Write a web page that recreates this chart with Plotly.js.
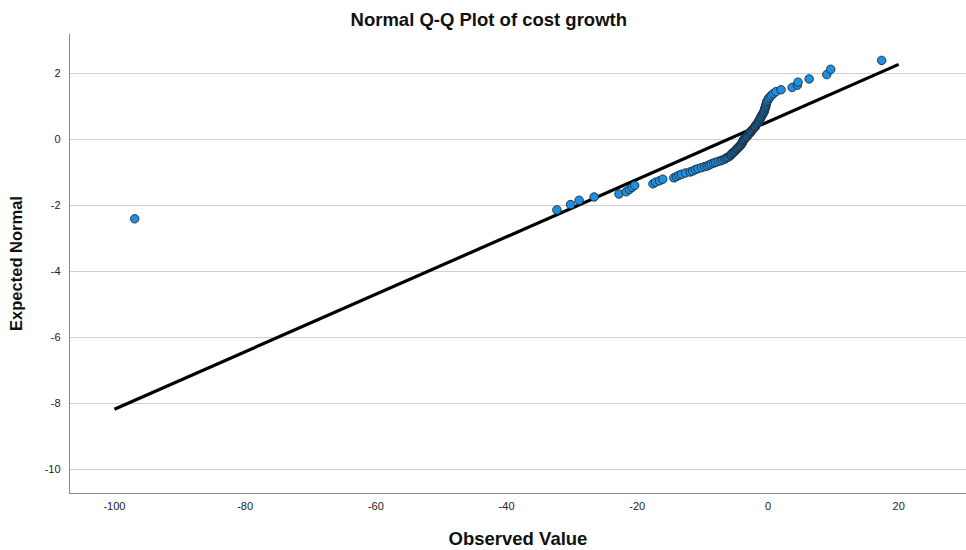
<!DOCTYPE html>
<html>
<head>
<meta charset="utf-8">
<script src="https://cdn.plot.ly/plotly-3.0.1.min.js"></script>
<style>html,body{margin:0;padding:0;background:#fff;}#chart{width:966px;height:550px;}</style>
</head>
<body>
<div id="chart"></div>
<script>
const observed = [
  -96.9, -32.3, -30.2, -28.9, -26.6, -22.8, -21.7, -21.2, -20.8, -20.4,
  -17.6, -17.2, -16.6, -16.1, -14.4, -14.0, -13.6, -13.2, -12.6, -11.9,
  -11.5, -11.1, -10.7, -10.2, -9.7, -9.3, -9.0, -8.7, -8.3, -8.0,
  -7.6, -7.2, -6.9, -6.6, -6.4, -6.2, -6.0, -5.8, -5.7, -5.6,
  -5.5, -5.4, -5.2, -5.1, -5.0, -4.9, -4.8, -4.7, -4.6, -4.5,
  -4.4, -4.3, -4.2, -4.1, -4.0, -3.95, -3.9, -3.85, -3.8, -3.75,
  -3.7, -3.6, -3.5, -3.4, -3.3, -3.2, -3.1, -3.0, -2.9, -2.8,
  -2.7, -2.65, -2.6, -2.55, -2.4, -2.3, -2.2, -2.1, -2.0, -1.95,
  -1.9, -1.8, -1.7, -1.6, -1.5, -1.45, -1.4, -1.3, -1.25, -1.2,
  -1.1, -1.05, -1.0, -0.9, -0.8, -0.75, -0.65, -0.6, -0.55, -0.5,
  -0.45, -0.4, -0.35, -0.3, -0.25, -0.2, -0.15, 0.0, 0.1, 0.3,
  0.5, 0.8, 1.2, 2.0, 3.7, 4.5, 4.6, 6.3, 9.0, 9.6,
  17.4
];
// Expected normal values
const expectedNormal = [
  -2.40, -2.13, -1.97, -1.84, -1.74, -1.65, -1.58, -1.51, -1.45, -1.39,
  -1.34, -1.29, -1.25, -1.20, -1.16, -1.12, -1.08, -1.05, -1.01, -0.98,
  -0.95, -0.91, -0.88, -0.85, -0.82, -0.80, -0.77, -0.74, -0.71, -0.69,
  -0.66, -0.64, -0.61, -0.59, -0.56, -0.54, -0.52, -0.49, -0.47, -0.45,
  -0.42, -0.40, -0.38, -0.36, -0.34, -0.31, -0.29, -0.27, -0.25, -0.23,
  -0.21, -0.19, -0.17, -0.15, -0.12, -0.10, -0.08, -0.06, -0.04, -0.02,
  0.00, 0.02, 0.04, 0.06, 0.08, 0.10, 0.12, 0.15, 0.17, 0.19,
  0.21, 0.23, 0.25, 0.27, 0.29, 0.31, 0.34, 0.36, 0.38, 0.40,
  0.42, 0.45, 0.47, 0.49, 0.52, 0.54, 0.56, 0.59, 0.61, 0.64,
  0.66, 0.69, 0.71, 0.74, 0.77, 0.80, 0.82, 0.85, 0.88, 0.91,
  0.95, 0.98, 1.01, 1.05, 1.08, 1.12, 1.16, 1.20, 1.25, 1.29,
  1.34, 1.39, 1.45, 1.51, 1.58, 1.65, 1.74, 1.84, 1.97, 2.13,
  2.40
];
// Reference line end points
const lineX = [-100, 20];
const lineY = [-8.17, 2.28];
// Tick values
const xTicks = [-100, -80, -60, -40, -20, 0, 20];
const yTicks = [-10, -8, -6, -4, -2, 0, 2];

const traces = [
  {
    x: lineX, y: lineY, type: 'scatter', mode: 'lines',
    line: {color: '#000000', width: 3.2}, hoverinfo: 'skip', showlegend: false
  },
  {
    x: observed, y: expectedNormal, type: 'scatter', mode: 'markers',
    marker: {color: '#1f8fe0', size: 8.5, line: {color: '#1c2b3a', width: 0.9}},
    showlegend: false
  }
];

const layout = {
  width: 966, height: 550,
  margin: {l: 70, r: 0, t: 34, b: 57},
  paper_bgcolor: '#ffffff', plot_bgcolor: '#ffffff',
  font: {family: 'Liberation Sans, Arial, sans-serif', color: '#222222', size: 11},
  title: {
    text: '<b>Normal Q-Q Plot of cost growth</b>',
    font: {size: 18.5, color: '#111111', family: 'Liberation Sans, Arial, sans-serif'},
    x: 0.506, xanchor: 'center', y: 0.965, yanchor: 'middle'
  },
  xaxis: {
    range: [-106.8, 30.3],
    tickvals: xTicks, ticktext: xTicks.map(String),
    showgrid: false, zeroline: false,
    showline: true, linecolor: '#8c8c8c', linewidth: 1.2,
    ticks: 'outside', ticklen: 3, tickcolor: 'rgba(0,0,0,0)',
    tickfont: {size: 11, color: '#222222'},
    title: {text: '<b>Observed Value</b>', font: {size: 18.5, color: '#111111'}, standoff: 20}
  },
  yaxis: {
    range: [-10.71, 3.2],
    tickvals: yTicks, ticktext: yTicks.map(String),
    showgrid: true, gridcolor: '#cfcfcf', gridwidth: 1.2,
    zeroline: false,
    showline: true, linecolor: '#8c8c8c', linewidth: 1.2,
    ticks: 'outside', ticklen: 6, tickcolor: 'rgba(0,0,0,0)',
    tickfont: {size: 11, color: '#222222'},
    title: {text: '<b>Expected Normal</b>', font: {size: 16.5, color: '#111111'}, standoff: 18}
  }
};

Plotly.newPlot('chart', traces, layout, {staticPlot: true, displayModeBar: false});
</script>
</body>
</html>
